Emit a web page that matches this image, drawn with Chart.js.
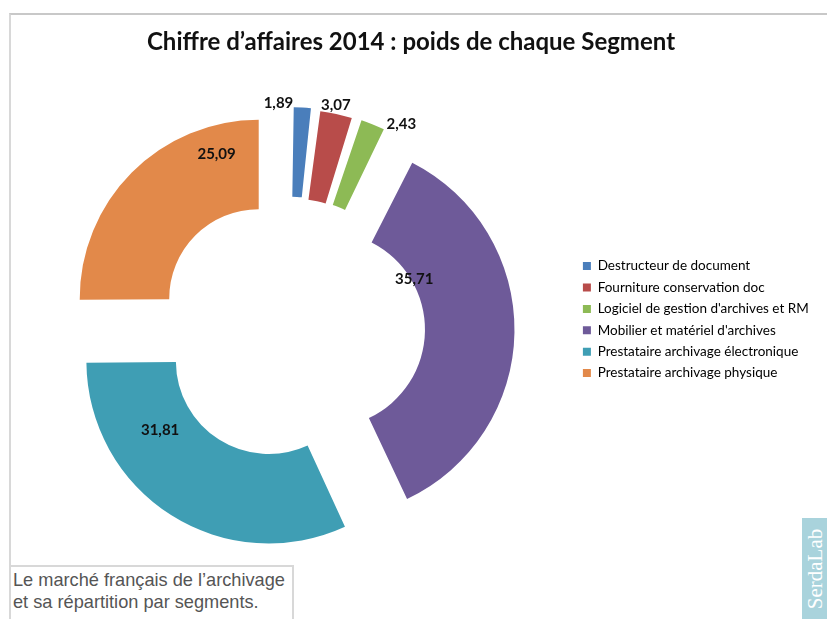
<!DOCTYPE html>
<html>
<head>
<meta charset="utf-8">
<script src="https://cdn.jsdelivr.net/npm/chart.js@4.4.1/dist/chart.umd.min.js"></script>
<style>
html, body { margin: 0; padding: 0; background: #fff; }
#page { position: relative; width: 827px; height: 619px; overflow: hidden; background: #fff; }
#frame { position: absolute; left: 9px; top: 13px; width: 830px; height: 700px;
  border-top: 2px solid #c8c8c8; border-left: 2px solid #d8d8d8; }
#wrap { position: absolute; left: 0; top: 0; width: 827px; height: 619px; }
#caption { position: absolute; left: 9px; top: 565px; width: 285px; height: 70px; box-sizing: border-box;
  border: 2px solid #d8d8d8; background: #fff; padding: 2px 0 0 2px;
  font-family: "Liberation Sans", Arial, sans-serif; font-size: 18.2px; line-height: 22px; color: #555; }
#stamp { position: absolute; left: 802px; top: 518px; width: 25px; height: 101px; background: #a9d3dc; }
#stamp span { position: absolute; left: 50%; top: 50%; transform: translate(-50%, -50%) rotate(-90deg);
  font-family: "Liberation Serif", "DejaVu Serif", serif; font-size: 21px; color: #fff; white-space: nowrap; }
</style>
</head>
<body>
<div id="page">
  <div id="frame"></div>
  <div id="wrap"><canvas id="segChart"></canvas></div>
  <div id="caption">Le marché français de l’archivage<br>et sa répartition par segments.</div>
  <div id="stamp"><span>SerdaLab</span></div>
</div>
<script>
// parts du chiffre d'affaires 2014 (%)
var segments = [
  'Destructeur de document',
  'Fourniture conservation doc',
  "Logiciel de gestion d'archives et RM",
  "Mobilier et matériel d'archives",
  'Prestataire archivage électronique',
  'Prestataire archivage physique'
]
var values = [1.89, 3.07, 2.43, 35.71, 31.81, 25.09]
var colors = ['#4A7EBB', '#B84C4A', '#8DBA55', '#6E5A99', '#3F9EB4', '#E2894A']

// explosion of each slice (chart.js offset, translates by offset/4)
var explode = [91, 91, 91, 152, 152, 172]
// where each value label sits: fraction along the arc, fraction across the ring
var labelAlong = [-0.5, 0.44, 1.32, 0.26, 0.72, 0.82]
var labelDepth = [1.05, 1.10, 1.14, 0.03, 0.40, 0.68]

var legendFont = { family: 'Lato', size: 13.5 }

// measure the longest legend entry so the legend box starts where it should
var mctx = document.createElement('canvas').getContext('2d')
mctx.font = legendFont.size + 'px ' + legendFont.family
var longest = 0
for (var i = 0; i < segments.length; i++) {
  longest = Math.max(longest, mctx.measureText(segments[i]).width)
}
var boxW = 8
var legendPad = 7.9
var padRight = 827 - 585 - (boxW + legendFont.size / 2 + longest) - legendPad

function frNumber(v) {
  return v.toFixed(2).replace('.', ',')
}

var sliceLabels = {
  id: 'sliceLabels',
  afterDatasetsDraw: function (chart) {
    var ctx = chart.ctx
    var meta = chart.getDatasetMeta(0)
    ctx.save()
    ctx.font = 'bold 15px Lato'
    ctx.fillStyle = '#111'
    ctx.textAlign = 'center'
    ctx.textBaseline = 'middle'
    meta.data.forEach(function (arc, i) {
      var p = arc.getProps(['x', 'y', 'startAngle', 'endAngle', 'innerRadius', 'outerRadius', 'circumference'], true)
      var off = (arc.options.offset || 0) / 4
      var half = (p.startAngle + p.endAngle) / 2
      var grow = off * (1 - Math.sin(Math.min(Math.PI, p.circumference)))
      var cx = p.x + Math.cos(half) * off
      var cy = p.y + Math.sin(half) * off
      var a = p.startAngle + labelAlong[i] * (p.endAngle - p.startAngle)
      var r = p.innerRadius + grow + labelDepth[i] * (p.outerRadius - p.innerRadius)
      ctx.fillText(frNumber(values[i]), cx + Math.cos(a) * r, cy + Math.sin(a) * r)
    })
    ctx.restore()
  }
}

var config = {
  type: 'doughnut',
  data: {
    labels: segments,
    datasets: [{
      data: values,
      backgroundColor: colors,
      borderWidth: 0,
      offset: explode,
      hoverOffset: 0
    }]
  },
  plugins: [sliceLabels],
  options: {
    responsive: true,
    maintainAspectRatio: false,
    animation: false,
    radius: 179,
    cutout: '50%',
    layout: {
      padding: { left: 3.4, right: padRight, top: 0, bottom: 26.4 }
    },
    plugins: {
      tooltip: { enabled: false },
      title: {
        display: true,
        text: 'Chiffre d’affaires 2014 : poids de chaque Segment',
        color: '#111',
        font: { family: 'Lato', size: 24, weight: 'bold' },
        padding: { top: 27.6, bottom: 9 }
      },
      legend: {
        position: 'right',
        align: 'start',
        title: {
          display: true,
          text: ' ',
          font: { size: 10 },
          padding: { top: 239.45, bottom: 0 }
        },
        labels: {
          color: '#000',
          font: legendFont,
          boxWidth: boxW,
          boxHeight: 8,
          padding: legendPad
        }
      }
    }
  }
}

var segChart = new Chart(document.getElementById('segChart').getContext('2d'), config)
</script>
</body>
</html>
